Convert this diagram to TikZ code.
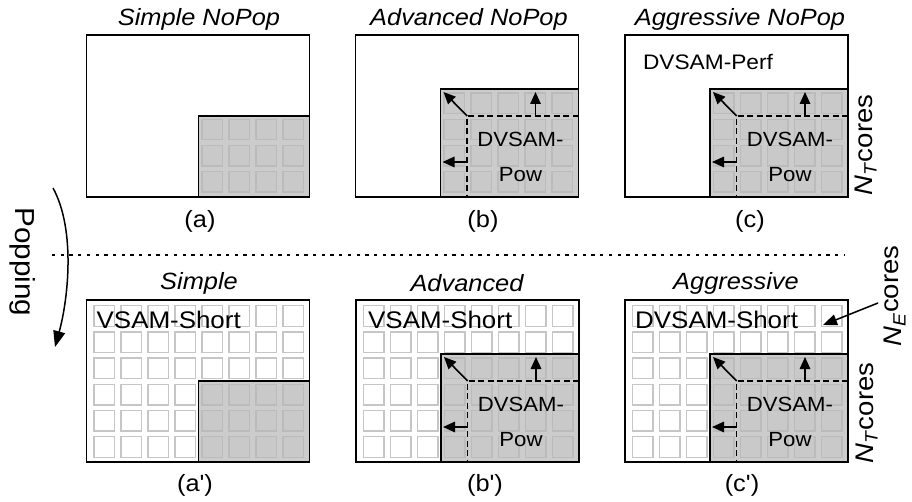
\documentclass[tikz,border=0pt]{standalone}
\usepackage{fontspec}
\setmainfont{Liberation Sans}[FakeStretch=1.08]
\newfontfamily\plainsans{Liberation Sans}[FakeStretch=1.08]
\usetikzlibrary{arrows.meta}
\definecolor{regiongray}{HTML}{CCCCCC}
\definecolor{cellline}{HTML}{C6C6C6}
\definecolor{cellgrayline}{HTML}{BBBBBB}
\definecolor{cellgrayfill}{HTML}{C9C9C9}
% cells of the 8x6 grid, from column #3 and row #4 on, panel origin (#1,#2)
\newcommand{\gridcells}[5]{%
  \foreach \ci in {#3,...,7}{\foreach \cj in {#4,...,5}{%
    \draw[#5] ({#1+7.6+27*\ci},{#2+5.7+26.2*\cj}) rectangle ++(20.5,20.5);}}}
% the DVSAM-Pow region with its moving boundary
\newcommand{\powregion}[3]{%
  \coordinate (#3c) at ({#1+111.7},{#2+81});
  \coordinate (#3r) at ({#1+223},{#2+81});
  \coordinate (#3b) at ({#1+111.7},{#2+162});
  \coordinate (#3u) at ({#1+180},{#2+81});
  \coordinate (#3l) at ({#1+111.7},{#2+127});
  \coordinate (#3cd) at ({#1+88},{#2+57});
  \coordinate (#3ud) at ({#1+180},{#2+57});
  \coordinate (#3ld) at ({#1+87},{#2+127});
  \draw[bound] (#3r) -- (#3c) -- (#3b);
  \draw[arr] (#3c) -- (#3cd);
  \draw[arr] (#3u) -- (#3ud);
  \draw[arr] (#3l) -- (#3ld);
  \node[pow] (#3t) at ({#1+165},{#2+122}) {DVSAM-\\Pow};}
\begin{document}
\begin{tikzpicture}[x=1pt,y=-1pt,
  panel/.style={draw=black,line width=1.5pt,fill=white,minimum width=223pt,minimum height=162pt,inner sep=0pt,outer sep=0pt,anchor=north west},
  region/.style={draw=black,line width=1.5pt,fill=regiongray,inner sep=0pt,outer sep=0pt,anchor=south east},
  wcell/.style={draw=cellline,line width=1.4pt,fill=white},
  gcell/.style={draw=cellgrayline,line width=1.4pt,fill=cellgrayfill},
  bound/.style={draw=black,dash pattern=on 6pt off 3.5pt,line width=1.5pt},
  arr/.style={draw=black,line width=1.6pt,-{Triangle[length=12pt,width=10.5pt]}},
  bigarr/.style={draw=black,line width=1.5pt,-{Triangle[length=16pt,width=12pt]}},
  dotline/.style={draw=black,line width=1.3pt,dash pattern=on 3.3pt off 5.4pt},
  ttl/.style={font=\fontsize{23.5}{28}\selectfont\itshape,inner sep=0pt},
  lbl/.style={font=\plainsans\fontsize{23.5}{28}\selectfont,inner sep=0pt},
  big/.style={font=\fontsize{24}{28}\selectfont,inner sep=0pt,anchor=west},
  perf/.style={font=\fontsize{21}{26}\selectfont,inner sep=0pt},
  pow/.style={font=\fontsize{20.5}{35}\selectfont,align=center,inner sep=0pt},
  side/.style={font=\fontsize{25.5}{30}\selectfont,inner sep=0pt,rotate=90},
]
\fill[white] (0,0) rectangle (912,502);
\useasboundingbox (0,0) rectangle (912,502);

% ---------- top row ----------
\node[panel] (pa) at (86.5,35) {};
\node[region,minimum width=111pt,minimum height=81pt] (ga) at (pa.south east) {};
\gridcells{86.5}{35}{4}{3}{gcell}

\node[panel] (pb) at (355.5,35) {};
\node[region,minimum width=138pt,minimum height=108pt] (gb) at (pb.south east) {};
\gridcells{355.5}{35}{3}{2}{gcell}
\powregion{355.5}{35}{b}

\node[panel] (pc) at (625,35) {};
\node[region,minimum width=138pt,minimum height=108pt] (gc) at (pc.south east) {};
\gridcells{625}{35}{3}{2}{gcell}
\powregion{625}{35}{c}
\node[perf] (perf) at (708,62) {DVSAM-Perf};

\node[ttl] (ta) at (199,19) {Simple NoPop};
\node[ttl] (tb) at (469,19) {Advanced NoPop};
\node[ttl] (tc) at (740,19) {Aggressive NoPop};
\node[lbl] (la) at (200,221) {(a)};
\node[lbl] (lb) at (483,221) {(b)};
\node[lbl] (lc) at (750,221) {(c)};
\node[side] (ntc) at (866,145) {\textit{N}\textsubscript{\textit{T}}cores};

% ---------- separator and popping ----------
\coordinate (dotL) at (52,255);
\coordinate (dotR) at (845,255);
\draw[dotline] (dotL) -- (dotR);
\node[font=\fontsize{27.5}{32}\selectfont,inner sep=0pt,rotate=-90] (pop) at (23,262) {Popping};
\coordinate (popA) at (53,188);
\coordinate (popB) at (55,347);
\draw[bigarr] (popA) .. controls (76,230) and (68,300) .. (popB);

% ---------- bottom row ----------
\node[panel] (pa2) at (86.5,300) {};
\gridcells{86.5}{300}{0}{0}{wcell}
\node[region,minimum width=111pt,minimum height=81pt] (ga2) at (pa2.south east) {};
\gridcells{86.5}{300}{4}{3}{gcell}
\node[big] (sa) at (96.5,320) {VSAM-Short};

\node[panel] (pb2) at (356,300) {};
\gridcells{356}{300}{0}{0}{wcell}
\node[region,minimum width=138pt,minimum height=108pt] (gb2) at (pb2.south east) {};
\gridcells{356}{300}{3}{2}{gcell}
\powregion{356}{300}{bb}
\node[big] (sb) at (368,320) {VSAM-Short};

\node[panel] (pc2) at (625,300) {};
\gridcells{625}{300}{0}{0}{wcell}
\node[region,minimum width=138pt,minimum height=108pt] (gc2) at (pc2.south east) {};
\gridcells{625}{300}{3}{2}{gcell}
\powregion{625}{300}{cc}
\node[big] (sc) at (635,320) {DVSAM-Short};

\node[ttl] (ta2) at (199,283) {Simple};
\node[ttl] (tb2) at (467,283) {Advanced};
\node[ttl] (tc2) at (736,283) {Aggressive};
\node[lbl] (la2) at (195,485) {(a')};
\node[lbl] (lb2) at (485,485) {(b')};
\node[lbl] (lc2) at (742,485) {(c')};
\node[side] (ntc2) at (867,413) {\textit{N}\textsubscript{\textit{T}}cores};
\node[side] (nec) at (895,296) {\textit{N}\textsubscript{\textit{E}}\raisebox{3pt}{cores}};
\coordinate (neStart) at (878,303);
\coordinate (neTip) at (823,325);
\draw[draw=black,line width=1.5pt,-{Triangle[length=14pt,width=11pt]}] (neStart) -- (neTip);
\end{tikzpicture}
\end{document}
